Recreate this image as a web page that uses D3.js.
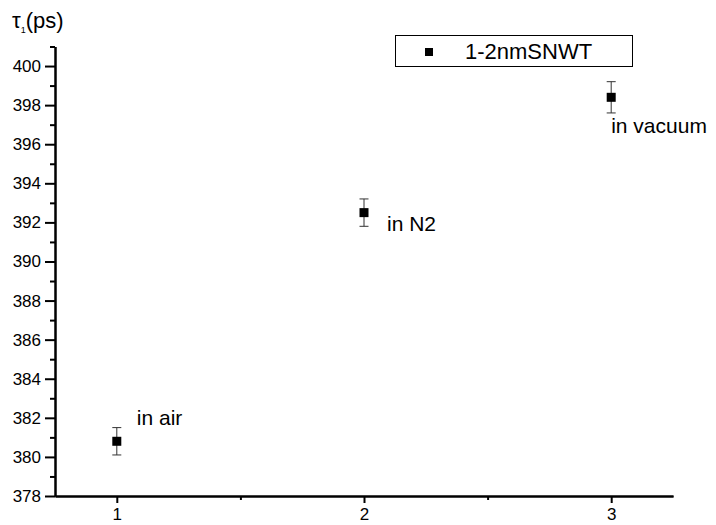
<!DOCTYPE html>
<html>
<head>
<meta charset="utf-8">
<script src="https://cdn.jsdelivr.net/npm/d3@7"></script>
<style>
  body { margin: 0; background: #fff; }
  text { font-family: Arial, "Liberation Sans", sans-serif; fill: #000; }
</style>
</head>
<body>
<svg id="chart"></svg>
<script>
// data
var conditions = [1, 2, 3];
var tau1 = [380.8, 392.5, 398.4];
var tau1Err = [0.7, 0.7, 0.8];
var pointLabels = ["in air", "in N2", "in vacuum"];
var yTicks = [378, 380, 382, 384, 386, 388, 390, 392, 394, 396, 398, 400];
var yMinorTicks = [379, 381, 383, 385, 387, 389, 391, 393, 395, 397, 399, 401];
var xTicks = [1, 2, 3];
var xMinorTicks = [1.5, 2.5];
var seriesName = "1-2nmSNWT";

var width = 716;
var height = 525;

var svg = d3.select("#chart")
  .attr("width", width)
  .attr("height", height);

var x = d3.scaleLinear().domain([0.75, 3.25]).range([55, 673]);
var y = d3.scaleLinear().domain([378, 401]).range([496, 46.5]);

// y axis
var yAxis = svg.append("g")
  .attr("transform", "translate(55,0)")
  .call(d3.axisLeft(y).tickValues(yTicks).tickSize(10).tickSizeOuter(0).tickPadding(4));
yAxis.append("g")
  .call(d3.axisLeft(y).tickValues(yMinorTicks).tickSize(5).tickSizeOuter(0).tickFormat(""));

// x axis
var xAxis = svg.append("g")
  .attr("transform", "translate(0,496)")
  .call(d3.axisBottom(x).tickValues(xTicks).tickSize(7).tickSizeOuter(0).tickPadding(5).tickFormat(d3.format("d")));
xAxis.append("g")
  .call(d3.axisBottom(x).tickValues(xMinorTicks).tickSize(4).tickSizeOuter(0).tickFormat(""));

svg.selectAll(".domain").attr("stroke-width", 2);
svg.selectAll(".tick line").attr("stroke-width", 2);
svg.selectAll(".tick text").style("font-size", "17px").style("font-family", "Arial, 'Liberation Sans', sans-serif");

// y title
var title = svg.append("text")
  .attr("x", 12)
  .attr("y", 28)
  .style("font-size", "22px");
title.append("tspan").text("τ");
title.append("tspan").attr("dy", 5).style("font-size", "9px").text("1");
title.append("tspan").attr("dy", -5).text("(ps)");

// points
var data = conditions.map(function(c, i) {
  return { x: c, y: tau1[i], err: tau1Err[i], label: pointLabels[i] };
});

var pts = svg.selectAll("g.pt")
    .data(data)
  .enter().append("g")
    .attr("class", "pt");

pts.append("line")
  .attr("x1", (d) => x(d.x)).attr("x2", (d) => x(d.x))
  .attr("y1", (d) => y(d.y - d.err)).attr("y2", (d) => y(d.y + d.err))
  .attr("stroke", "#333").attr("stroke-width", 1);
pts.append("line")
  .attr("x1", (d) => x(d.x) - 4.5).attr("x2", (d) => x(d.x) + 4.5)
  .attr("y1", (d) => y(d.y + d.err)).attr("y2", (d) => y(d.y + d.err))
  .attr("stroke", "#333").attr("stroke-width", 1);
pts.append("line")
  .attr("x1", (d) => x(d.x) - 4.5).attr("x2", (d) => x(d.x) + 4.5)
  .attr("y1", (d) => y(d.y - d.err)).attr("y2", (d) => y(d.y - d.err))
  .attr("stroke", "#333").attr("stroke-width", 1);
pts.append("rect")
  .attr("x", (d) => x(d.x) - 4.5)
  .attr("y", (d) => y(d.y) - 4.5)
  .attr("width", 9)
  .attr("height", 9)
  .attr("fill", "#000");

// labels next to points
var labelOffsets = [[20, -16], [23, 18], [0, 36]];
pts.append("text")
  .attr("x", (d, i) => x(d.x) + labelOffsets[i][0])
  .attr("y", (d, i) => y(d.y) + labelOffsets[i][1])
  .style("font-size", "21px")
  .text((d) => d.label);

// legend
var legend = svg.append("g");
legend.append("rect")
  .attr("x", 395.5).attr("y", 35.5)
  .attr("width", 237).attr("height", 31)
  .attr("fill", "#fff").attr("stroke", "#000").attr("stroke-width", 1);
legend.append("rect")
  .attr("x", 425).attr("y", 48)
  .attr("width", 8).attr("height", 8)
  .attr("fill", "#000");
legend.append("text")
  .attr("x", 465).attr("y", 59)
  .style("font-size", "22px")
  .text(seriesName);
</script>
</body>
</html>
